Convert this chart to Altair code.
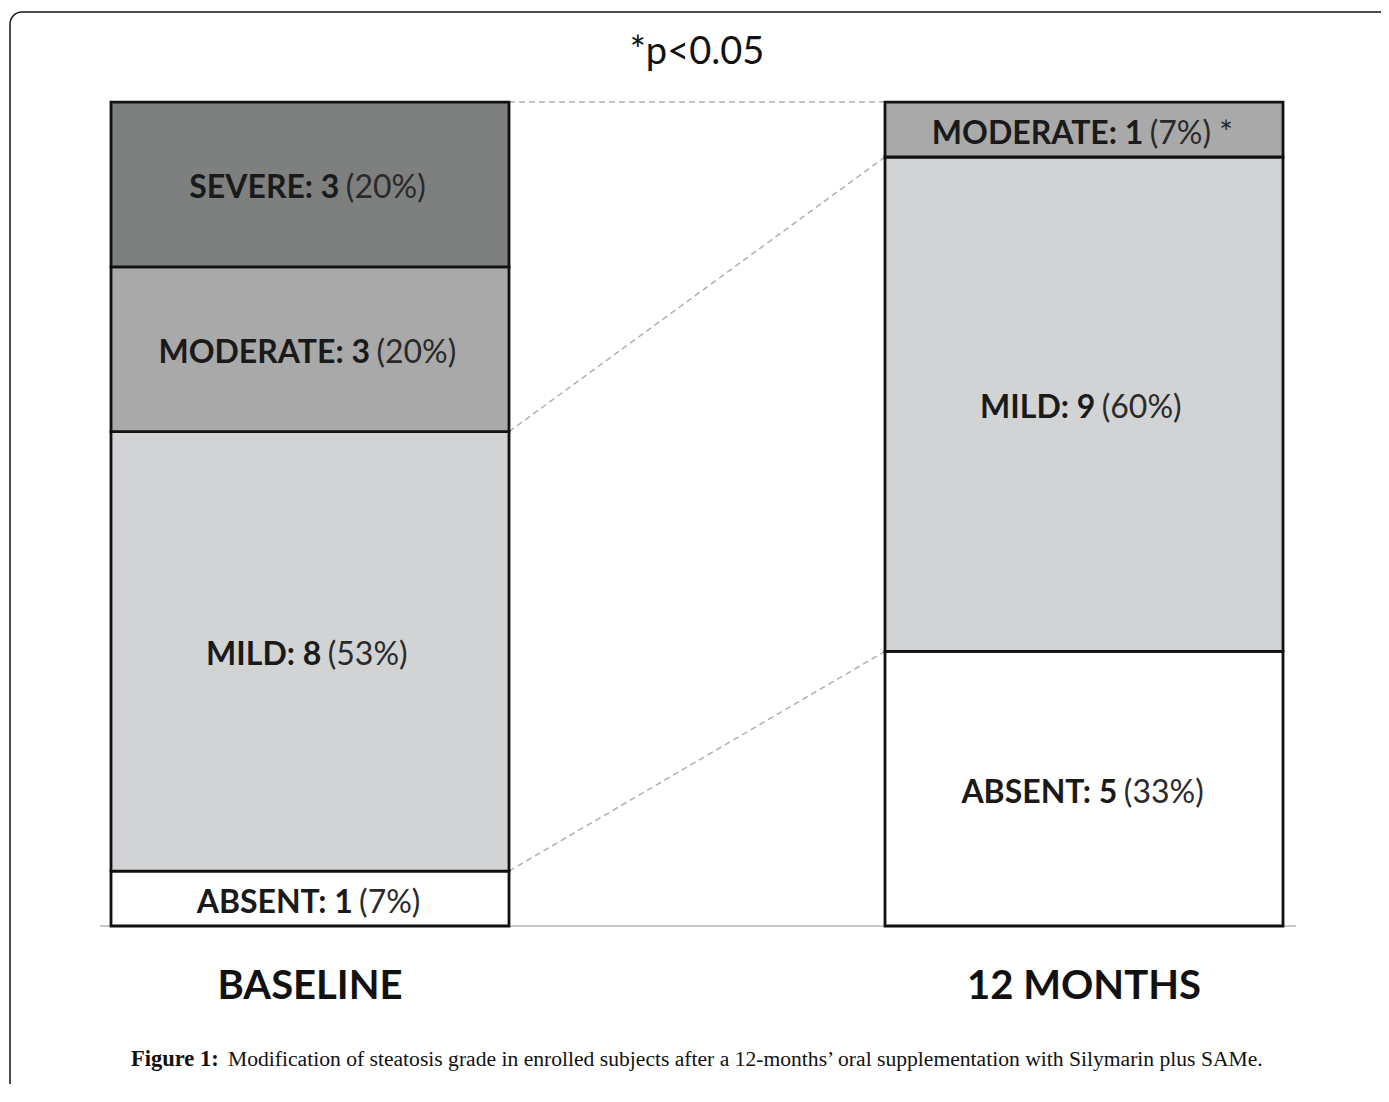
import altair as alt
import pandas as pd

# ---------------- data ----------------
groups = ["BASELINE", "12 MONTHS"]
grades = ["ABSENT", "MILD", "MODERATE", "SEVERE"]
baseline_counts = [1, 8, 3, 3]
baseline_pcts = ["7%", "53%", "20%", "20%"]
month12_counts = [5, 9, 1, 0]
month12_pcts = ["33%", "60%", "7%", "0%"]
month12_flags = ["", "", " *", ""]
baseline_flags = ["", "", "", ""]
title_text = "*p<0.05"
caption_bold = "Figure 1:"
caption_rest = ("Modification of steatosis grade in enrolled subjects after a "
                "12-months\u2019 oral supplementation with Silymarin plus SAMe.")

grade_colors = ["#ffffff", "#d2d3d5", "#a9a9aa", "#7e7f7f"]

# ---------------- layout constants ----------------
W, H = 1373, 1076
PX_X = 774.0      # px per group step
PX_Y = 54.93      # px per subject
X0_PX, Y0_PX = 310 - 8, 926 - 8   # plot-pixel position of (group 0, count 0)
XMIN, XMAX = -X0_PX / PX_X, (W - X0_PX) / PX_X
YMIN, YMAX = -(H - Y0_PX) / PX_Y, Y0_PX / PX_Y
HALF = 199 / PX_X
FS = 32
FONT = "Lato"

BOLD_W = dict(A=.69, B=.66, D=.74, E=.56, I=.29, L=.50, M=.89, N=.76, O=.79,
              R=.64, S=.54, T=.59, V=.69)
REG_W = {"(": .30, ")": .30, "%": .80, "*": .42, " ": .20}


def width(text, bold):
    tot = 0.0
    for ch in text:
        if ch.isdigit():
            tot += .58
        elif ch == ":":
            tot += .27
        elif ch == " ":
            tot += .20
        elif bold:
            tot += BOLD_W.get(ch, .6)
        else:
            tot += REG_W.get(ch, .55)
    return tot * FS


xs = alt.Scale(domain=[XMIN, XMAX], nice=False, zero=False)
ys = alt.Scale(domain=[YMIN, YMAX], nice=False, zero=False)


def X(f):
    return alt.X(f, type="quantitative", scale=xs, axis=None)


def Y(f):
    return alt.Y(f, type="quantitative", scale=ys, axis=None)


rows = []
ends = {}
for gi, (g, counts, pcts, flags) in enumerate(
        [(groups[0], baseline_counts, baseline_pcts, baseline_flags),
         (groups[1], month12_counts, month12_pcts, month12_flags)]):
    cum = 0
    for grade, c, p, f in zip(grades, counts, pcts, flags):
        if c == 0:
            continue
        bold = f"{grade}: {c}"
        reg = f"({p}){f}"
        wb, wr, sp = width(bold, True), width(reg, False), .2 * FS
        split_px = (wb - sp - wr) / 2
        rows.append(dict(group=g, grade=grade, pos=gi, x1=gi - HALF, x2=gi + HALF,
                         y1=cum, y2=cum + c, ymid=cum + c / 2,
                         bold=bold, reg=reg, xsplit=gi + split_px / PX_X))
        cum += c
        ends[(g, grade)] = cum
    ends[(g, "TOTAL")] = cum

seg = pd.DataFrame(rows)

conn = pd.DataFrame([
    dict(x1=0 + HALF, x2=1 - HALF, y1=ends[(groups[0], k)], y2=ends[(groups[1], k)])
    for k in ["ABSENT", "MILD", "TOTAL"]
])

base_line = pd.DataFrame([dict(x1=0 - HALF - 11 / PX_X, x2=1 + HALF + 13 / PX_X, y=0)])
cats = pd.DataFrame(dict(group=groups, pos=[0, 1]))
frame_df = pd.DataFrame([dict(x1=(2 - X0_PX) / PX_X, x2=XMAX + 1,
                              y1=YMIN - 1, y2=(Y0_PX - 4) / PX_Y)])

frame = alt.Chart(frame_df).mark_rect(
    fillOpacity=0, stroke="#111111", strokeWidth=1.5, cornerRadius=12
).encode(x=X("x1"), x2="x2:Q", y=Y("y1"), y2="y2:Q")

bars = alt.Chart(seg).mark_rect(stroke="#111111", strokeWidth=2.8).encode(
    x=X("x1"), x2="x2:Q", y=Y("y1"), y2="y2:Q",
    fill=alt.Fill("grade:N", scale=alt.Scale(domain=grades, range=grade_colors), legend=None),
)

connectors = alt.Chart(conn).mark_rule(
    color="#b0b0b0", strokeWidth=1.5, strokeDash=[6, 4]
).encode(x=X("x1"), x2="x2:Q", y=Y("y1"), y2="y2:Q")

baseline = alt.Chart(base_line).mark_rule(color="#c8c8c8", strokeWidth=2).encode(
    x=X("x1"), x2="x2:Q", y=Y("y")
)

lab_bold = alt.Chart(seg).mark_text(
    font=FONT, fontSize=FS, fontWeight="bold", align="right", baseline="middle",
    color="#1a1a1a", dy=4
).encode(x=X("xsplit"), y=Y("ymid"), text="bold:N")

lab_reg = alt.Chart(seg).mark_text(
    font=FONT, fontSize=FS, align="left", baseline="middle",
    color="#2a2a2a", dx=0.2 * FS, dy=4
).encode(x=X("xsplit"), y=Y("ymid"), text="reg:N")

cat_text = alt.Chart(cats).mark_text(
    font=FONT, fontSize=40, fontWeight="bold", baseline="middle", color="#111111"
).encode(x=X("pos"), y=alt.value(987 - 8), text="group:N")

title = alt.Chart(pd.DataFrame(dict(t=[title_text]))).mark_text(
    font=FONT, fontSize=38, baseline="middle", color="#111111"
).encode(x=alt.value(697 - 8), y=alt.value(53 - 8), text="t:N")

cap_b = alt.Chart(pd.DataFrame(dict(t=[caption_bold]))).mark_text(
    font="Liberation Serif", fontSize=22.5, fontWeight="bold", align="left",
    baseline="alphabetic", color="#111111"
).encode(x=alt.value(131 - 8), y=alt.value(1066 - 8), text="t:N")

cap_r = alt.Chart(pd.DataFrame(dict(t=[caption_rest]))).mark_text(
    font="Liberation Serif", fontSize=21.6, align="left",
    baseline="alphabetic", color="#111111"
).encode(x=alt.value(228 - 8), y=alt.value(1066 - 8), text="t:N")

chart = alt.layer(
    frame, baseline, connectors, bars, lab_bold, lab_reg, cat_text, title, cap_b, cap_r
).properties(
    width=W, height=H, padding=0,
    autosize=alt.AutoSizeParams(type="none"),
).configure_view(strokeWidth=0)

chart.save("out.html", embed_options={"renderer": "svg", "actions": False})
